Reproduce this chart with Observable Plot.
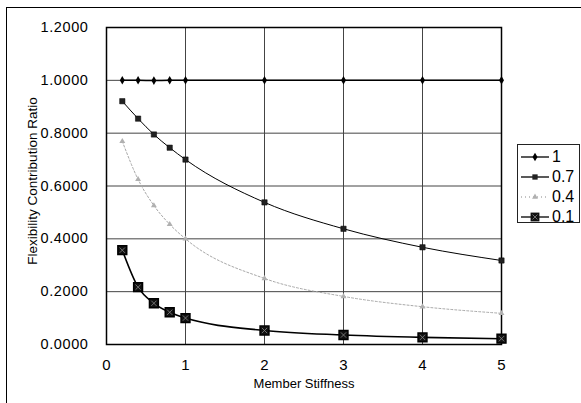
<!DOCTYPE html>
<html>
<head>
<meta charset="utf-8">
<script src="https://cdn.jsdelivr.net/npm/d3@7"></script>
<script src="https://cdn.jsdelivr.net/npm/@observablehq/plot@0.6"></script>
<style>
  html, body { margin: 0; padding: 0; background: #fff; }
  #wrap { position: relative; width: 581px; height: 403px; overflow: hidden; font-family: "Liberation Sans", Arial, sans-serif; }
  #outer { position: absolute; left: 6px; top: 7px; width: 600px; height: 420px; border-left: 1px solid #000; border-top: 1px solid #000; pointer-events: none; }
  #legend { position: absolute; left: 517px; top: 144px; width: 63px; height: 79px; border: 1px solid #222; background: #fff; box-sizing: border-box; }
  #legend .row { position: absolute; left: 0; height: 18px; display: flex; align-items: center; }
  #legend .row span { font-size: 16px; color: #000; margin-left: 2px; }
  #chart g[aria-label="y-axis tick label"], #chart g[aria-label="x-axis tick label"] { font-size: 14.5px; letter-spacing: 0.6px; }
  #chart g[aria-label="x-axis tick label"] { letter-spacing: 0; font-size: 15px; }
</style>
</head>
<body>
<div id="wrap">
  <div id="chart"></div>
  <div id="outer"></div>
  <div id="legend"></div>
</div>
<script>
const xValues = [0.2, 0.4, 0.6, 0.8, 1, 2, 3, 4, 5];
const seriesNames = ["1", "0.7", "0.4", "0.1"];
const series1 = [1.000, 1.000, 0.999, 1.000, 1.000, 1.000, 1.000, 1.000, 1.000];
const series07 = [0.921, 0.855, 0.795, 0.745, 0.700, 0.538, 0.438, 0.368, 0.318];
const series04 = [0.769, 0.625, 0.526, 0.455, 0.400, 0.250, 0.182, 0.143, 0.118];
const series01 = [0.357, 0.217, 0.156, 0.122, 0.100, 0.053, 0.036, 0.027, 0.022];
const xTicks = [0, 1, 2, 3, 4, 5];
const yTicks = [0, 0.2, 0.4, 0.6, 0.8, 1.0, 1.2];

const toRows = (vals) => xValues.map((x, i) => ({x, y: vals[i]}));
const d1 = toRows(series1), d07 = toRows(series07), d04 = toRows(series04), d01 = toRows(series01);

const chart = Plot.plot({
  width: 581,
  height: 403,
  marginLeft: 106,
  marginRight: 80,
  marginTop: 27,
  marginBottom: 59,
  style: {fontFamily: "Liberation Sans, Arial, sans-serif", fontSize: "14px", color: "#000", background: "transparent"},
  x: {domain: [0, 5], label: null},
  y: {domain: [0, 1.2], label: null},
  marks: [
    Plot.gridX(xTicks, {stroke: "#444", strokeOpacity: 1}),
    Plot.gridY(yTicks, {stroke: "#444", strokeOpacity: 1}),
    Plot.frame({stroke: "#000", strokeWidth: 1.5}),
    Plot.axisX({ticks: xTicks, tickSize: 0, tickPadding: 15, tickFormat: d3.format("d"), label: null}),
    Plot.axisY({ticks: yTicks, tickSize: 0, tickPadding: 18, tickFormat: d3.format(".4f"), label: null}),
    Plot.text(["Member Stiffness"], {frameAnchor: "bottom", dy: 43, fontSize: 13}),
    Plot.text(["Flexibility Contribution Ratio"], {frameAnchor: "left", textAnchor: "middle", dx: -74, dy: -5, rotate: -90, fontSize: 13.5}),
    // series 0.4 (gray dotted)
    Plot.line(d04, {x: "x", y: "y", stroke: "#a8a8a8", strokeWidth: 1, strokeDasharray: "2,2", curve: "monotone-x"}),
    Plot.dot(d04, {x: "x", y: "y", symbol: "triangle", r: 2.2, fill: "#b0b0b0", stroke: "none"}),
    // series 1
    Plot.line(d1, {x: "x", y: "y", stroke: "#000", strokeWidth: 1.5, curve: "monotone-x"}),
    Plot.dot(d1, {x: "x", y: "y", symbol: "diamond", r: 2.6, fill: "#000", stroke: "none"}),
    // series 0.7
    Plot.line(d07, {x: "x", y: "y", stroke: "#000", strokeWidth: 1, curve: "monotone-x"}),
    Plot.dot(d07, {x: "x", y: "y", symbol: "square", r: 3, fill: "#222", stroke: "#000", strokeWidth: 0.5}),
    // series 0.1
    Plot.line(d01, {x: "x", y: "y", stroke: "#000", strokeWidth: 1.6, curve: "monotone-x"}),
    Plot.dot(d01, {x: "x", y: "y", symbol: "square", r: 5, fill: "#111", stroke: "#000"}),
    Plot.dot(d01, {x: "x", y: "y", symbol: "times", r: 2.5, stroke: "#888", strokeWidth: 0.8})
  ]
});
document.getElementById("chart").appendChild(chart);

// legend
const legendStyles = [
  {name: seriesNames[0], stroke: "#000", dash: null, sym: d3.symbolDiamond, size: 22, fill: "#000"},
  {name: seriesNames[1], stroke: "#000", dash: null, sym: d3.symbolSquare, size: 28, fill: "#222"},
  {name: seriesNames[2], stroke: "#b0b0b0", dash: "1,3", sym: d3.symbolTriangle, size: 15, fill: "#b0b0b0"},
  {name: seriesNames[3], stroke: "#000", dash: null, sym: d3.symbolSquare, size: 78, fill: "#111"}
];
const legend = d3.select("#legend");
legendStyles.forEach((s, i) => {
  const row = legend.append("div").attr("class", "row").style("top", (3 + i * 20) + "px");
  const svg = row.append("svg").attr("width", 32).attr("height", 18);
  svg.append("line").attr("x1", 3).attr("x2", 31).attr("y1", 9).attr("y2", 9)
    .attr("stroke", s.stroke).attr("stroke-width", 1.3).attr("stroke-dasharray", s.dash);
  svg.append("path").attr("transform", "translate(17,9)").attr("d", d3.symbol(s.sym, s.size)()).attr("fill", s.fill);
  if (i === 3) {
    svg.append("path").attr("transform", "translate(17,9)").attr("d", d3.symbol(d3.symbolTimes, 18)()).attr("stroke", "#888").attr("stroke-width", 0.8).attr("fill", "none");
  }
  row.append("span").text(s.name);
});
</script>
</body>
</html>
